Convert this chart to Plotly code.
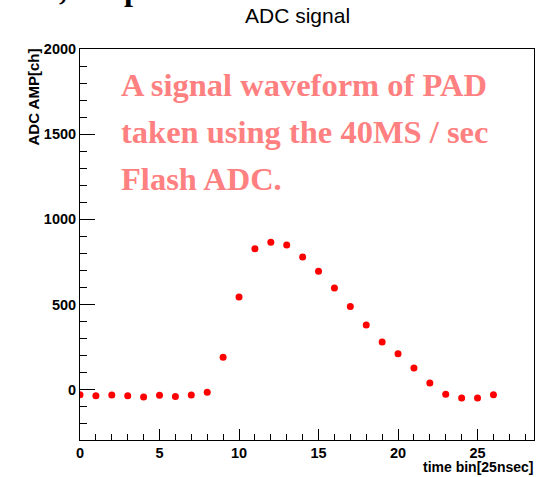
import plotly.graph_objects as go

time_bin = list(range(27))
adc_amp = [-29, -35, -31, -35, -43, -33, -39, -31, -14, 190, 544, 828, 865, 849,
           779, 695, 597, 489, 380, 280, 211, 127, 39, -27, -49, -49, -29]

title = "ADC signal"
x_title = "time bin[25nsec]"
y_title = "ADC AMP[ch]"
note_lines = ["A signal waveform of PAD", "taken using the 40MS / sec", "Flash ADC."]

W, H = 545, 477
L, R, T, B = 80, 11, 49, 37
PW, PH = W - L - R, H - T - B

def px(xp):
    return (xp - L) / PW

def py(yp):
    return (H - B - yp) / PH

fig = go.Figure()
fig.add_trace(go.Scatter(x=time_bin, y=adc_amp, mode="markers",
                         marker=dict(color="#ff0000", size=7), showlegend=False))

tick_font = dict(family="Liberation Sans", size=14.5, color="black", weight="bold")
fig.update_xaxes(range=[0, 28.55], showline=True, linecolor="black", linewidth=1,
                 mirror=True, ticks="inside", ticklen=11, tickcolor="black",
                 tickvals=[0, 5, 10, 15, 20, 25], tickfont=tick_font,
                 minor=dict(dtick=1, ticklen=6, tickcolor="black", ticks="inside"),
                 showgrid=False, zeroline=False)
fig.update_yaxes(range=[-295, 2000], showline=True, linecolor="black", linewidth=1,
                 mirror=True, ticks="inside", ticklen=15, tickcolor="black",
                 tickvals=[0, 500, 1000, 1500, 2000], tickfont=tick_font,
                 ticklabelstandoff=0,
                 minor=dict(dtick=100, ticklen=7, tickcolor="black", ticks="inside"),
                 showgrid=False, zeroline=False)

ann = []
ann.append(dict(text=title, x=px(297), y=py(15), xref="paper", yref="paper",
                xanchor="center", yanchor="middle", showarrow=False,
                font=dict(family="Liberation Sans", size=21, color="black")))
ann.append(dict(text=x_title, x=px(535), y=py(467), xref="paper", yref="paper",
                xanchor="right", yanchor="middle", showarrow=False,
                font=dict(family="Liberation Sans", size=14, color="black", weight="bold")))
ann.append(dict(text=y_title, x=px(33), y=py(47), xref="paper", yref="paper",
                xanchor="center", yanchor="top", textangle=-90, showarrow=False,
                font=dict(family="Liberation Sans", size=15, color="black", weight="bold")))
for line, yc in zip(note_lines, [85, 132, 179]):
    ann.append(dict(text=line, x=px(119), y=py(yc), xref="paper", yref="paper",
                    xanchor="left", yanchor="middle", showarrow=False,
                    font=dict(family="Liberation Serif", size=32.5, color="#ff8080",
                              weight="bold")))
# cut-off fragments of document text at the very top edge
for frag, xc in [(",", 63), ("p", 133)]:
    ann.append(dict(text=frag, x=px(xc), y=py(9), xref="paper", yref="paper",
                    xanchor="center", yanchor="bottom", showarrow=False,
                    font=dict(family="Liberation Serif", size=32, color="black",
                              weight="bold")))

fig.update_layout(width=W, height=H, margin=dict(l=L, r=R, t=T, b=B),
                  paper_bgcolor="white", plot_bgcolor="white",
                  annotations=ann)

fig.write_html("out.html", config={"displayModeBar": False},
               post_script="document.body.style.margin='0';document.body.style.padding='0';")
